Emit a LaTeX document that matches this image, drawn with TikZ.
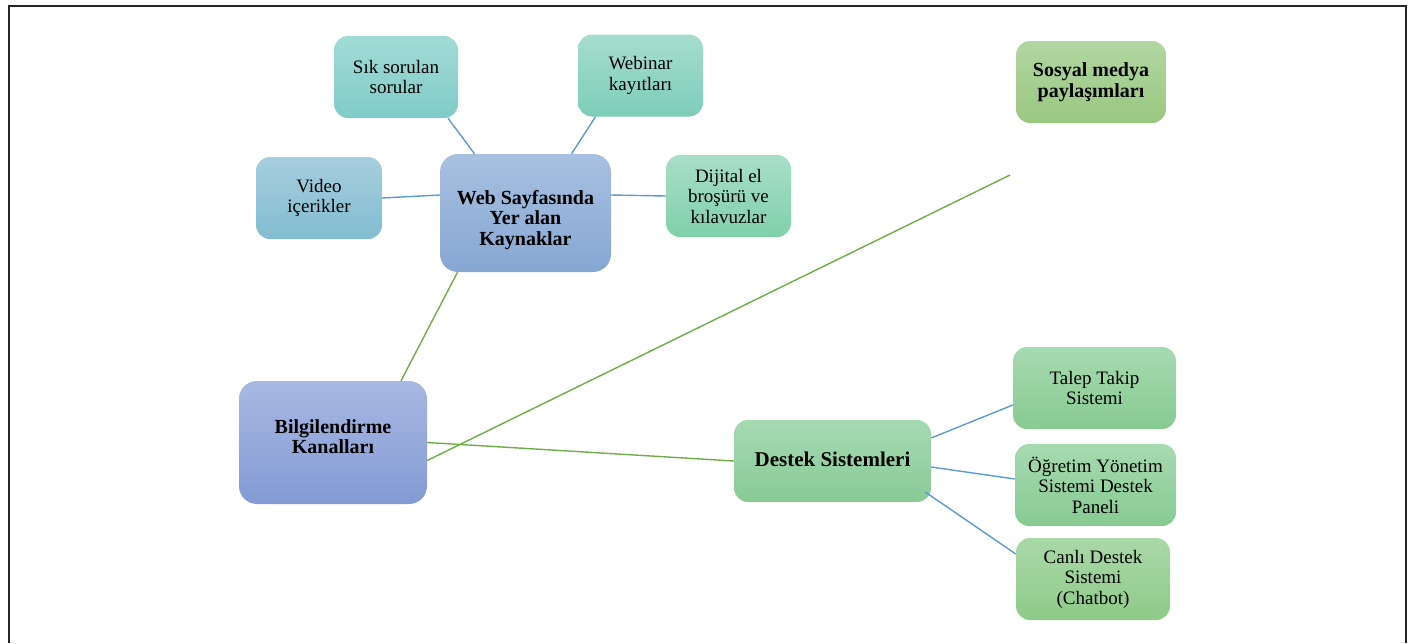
\documentclass[tikz,border=0pt]{standalone}
\usepackage{fontspec}
\setmainfont{Liberation Serif}
\usepackage{tikz}
\usetikzlibrary{shapes}
\definecolor{linkblue}{RGB}{91,155,213}
\definecolor{linkgreen}{RGB}{112,173,71}
\tikzstyle{leaf}=[rectangle, rounded corners=14pt, minimum height=82pt, inner sep=2pt,
        align=center, text=black, font=\fontsize{19}{20.5}\selectfont]
\tikzstyle{hub}=[rectangle, rounded corners=18pt, inner sep=2pt,
        align=center, text=black, font=\fontsize{20}{20.5}\selectfont\bfseries]
\tikzstyle{blueline}=[draw=linkblue, line width=1.4pt]
\tikzstyle{greenline}=[draw=linkgreen, line width=1.4pt]

\begin{document}
\begin{tikzpicture}[x=1pt, y=-1pt]
\useasboundingbox (0,0) rectangle (1410,643);
\draw[line width=2pt, black!85] (8.5,643) -- (8.5,5.5) -- (1406,5.5) -- (1406,643);

\node [leaf, minimum width=124pt, top color={rgb,255:red,162;green,219;blue,214}, bottom color={rgb,255:red,128;green,203;blue,199}] (sss) at (396,77) {Sık sorulan\\sorular};
\node [leaf, minimum width=125pt, top color={rgb,255:red,166;green,221;blue,206}, bottom color={rgb,255:red,125;green,205;blue,184}] (webinar) at (640.5,75.5) {Webinar\\kayıtları};
\node [leaf, minimum width=126pt, top color={rgb,255:red,166;green,206;blue,222}, bottom color={rgb,255:red,130;green,188;blue,208}] (video) at (319,198) {Video\\içerikler};
\node [hub, minimum width=171pt, minimum height=118pt, top color={rgb,255:red,168;green,192;blue,224}, bottom color={rgb,255:red,134;green,167;blue,211}] (web) at (525.5,213) {\rule{0pt}{28pt}Web Sayfasında\\Yer alan\\Kaynaklar};
\node [leaf, minimum width=125pt, top color={rgb,255:red,168;green,222;blue,200}, bottom color={rgb,255:red,128;green,208;blue,170}] (dijital) at (728.5,196) {Dijital el\\broşürü ve\\kılavuzlar};
\node [hub, rounded corners=14pt, minimum width=150pt, minimum height=82pt, top color={rgb,255:red,178;green,214;blue,162}, bottom color={rgb,255:red,153;green,199;blue,128}] (sosyal) at (1091,82) {Sosyal medya\\paylaşımları};
\node [hub, minimum width=188pt, minimum height=123pt, top color={rgb,255:red,168;green,184;blue,226}, bottom color={rgb,255:red,131;green,154;blue,212}] (bilgi) at (333,442.5) {Bilgilendirme\\Kanalları\rule[-12pt]{0pt}{1pt}};
\node [hub, rounded corners=14pt, minimum width=197pt, minimum height=82pt, font=\fontsize{21}{21}\selectfont\bfseries, top color={rgb,255:red,166;green,218;blue,178}, bottom color={rgb,255:red,136;green,202;blue,150}] (destek) at (832.5,461) {\raisebox{4pt}{Destek Sistemleri}};
\node [leaf, minimum width=163pt, top color={rgb,255:red,166;green,218;blue,176}, bottom color={rgb,255:red,136;green,202;blue,146}] (talep) at (1094.5,388) {Talep Takip\\Sistemi};
\node [leaf, minimum width=161pt, top color={rgb,255:red,166;green,218;blue,176}, bottom color={rgb,255:red,136;green,202;blue,146}] (ogretim) at (1095.5,485) {Öğretim Yönetim\\Sistemi Destek\\Paneli};
\node [leaf, minimum width=154pt, top color={rgb,255:red,170;green,216;blue,168}, bottom color={rgb,255:red,142;green,202;blue,136}] (canli) at (1093,579) {Canlı Destek\\Sistemi\\(Chatbot)};
\coordinate (sosyalend) at (1010,175);

\draw[blueline] ([xshift=52pt]sss.south) -- ([xshift=-51pt]web.north);
\draw[blueline] ([xshift=-45pt]webinar.south) -- ([xshift=46pt]web.north);
\draw[blueline] (video.east) -- ([yshift=18pt]web.west);
\draw[blueline] (dijital.west) -- ([yshift=18pt]web.east);
\draw[greenline] ([xshift=68pt]bilgi.north) -- ([xshift=-68pt]web.south);
\draw[greenline] (bilgi.east) -- (destek.west);
\draw[greenline] ([yshift=-18pt]bilgi.east) -- (sosyalend);
\draw[blueline] ([yshift=23pt]destek.east) -- ([yshift=-17pt]talep.west);
\draw[blueline] ([yshift=-6pt]destek.east) -- ([yshift=6pt]ogretim.west);
\draw[blueline] ([xshift=-6pt,yshift=-31pt]destek.east) -- ([yshift=25pt]canli.west);
\end{tikzpicture}
\end{document}
